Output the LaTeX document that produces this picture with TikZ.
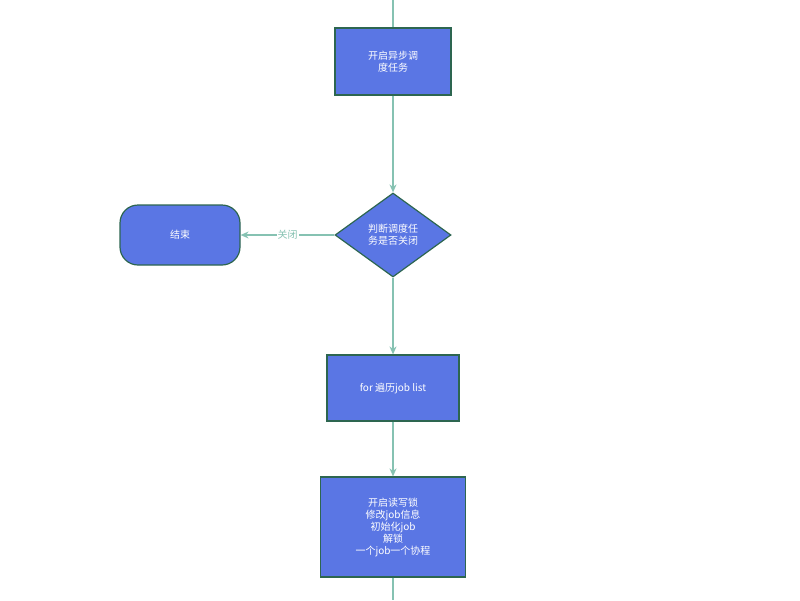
\documentclass[tikz,border=0pt]{standalone}
\usepackage{fontspec}
\setmainfont{Noto Sans CJK SC}
\usetikzlibrary{shapes.geometric,arrows.meta}
\definecolor{bfill}{HTML}{5A76E4}
\definecolor{bdraw}{HTML}{2D6650}
\definecolor{conn}{HTML}{86C2B2}
\begin{document}
\begin{tikzpicture}[x=1pt,y=-1pt,
  box/.style={draw=bdraw,line width=1.2pt,fill=bfill,text=white,font=\fontsize{10}{12}\selectfont,align=center,inner sep=0pt},
  arr/.style={draw=conn,line width=1.3pt,-{Stealth[length=8pt,width=7pt]}}]
\useasboundingbox (0,0) rectangle (800,600);
\coordinate (top) at (393,0);
\coordinate (bot) at (393,600);
\node[box,minimum width=116pt,minimum height=67pt] (b1) at (393,61.5) {开启异步调\\度任务};
\node[box,diamond,aspect=1.4,minimum width=116pt,minimum height=84pt] (d) at (393,235) {判断调度任\\务是否关闭};
\node[box,rounded corners=18pt,minimum width=120pt,minimum height=60pt] (end) at (180,235) {结束};
\node[box,minimum width=132pt,minimum height=66pt] (b3) at (393,388) {for 遍历job list};
\node[box,minimum width=145pt,minimum height=100pt] (b4) at (393,527) {开启读写锁\\修改job信息\\初始化job\\解锁\\一个job一个协程};
\draw[arr,-] (top) -- (b1);
\draw[arr] (b1) -- (d);
\draw[arr] (d) -- node[fill=white,text=conn,font=\fontsize{10}{12}\selectfont,inner sep=1pt,pos=0.5]{关闭} (end);
\draw[arr] (d) -- (b3);
\draw[arr] (b3) -- (b4);
\draw[arr,-] (b4) -- (bot);
\end{tikzpicture}
\end{document}
